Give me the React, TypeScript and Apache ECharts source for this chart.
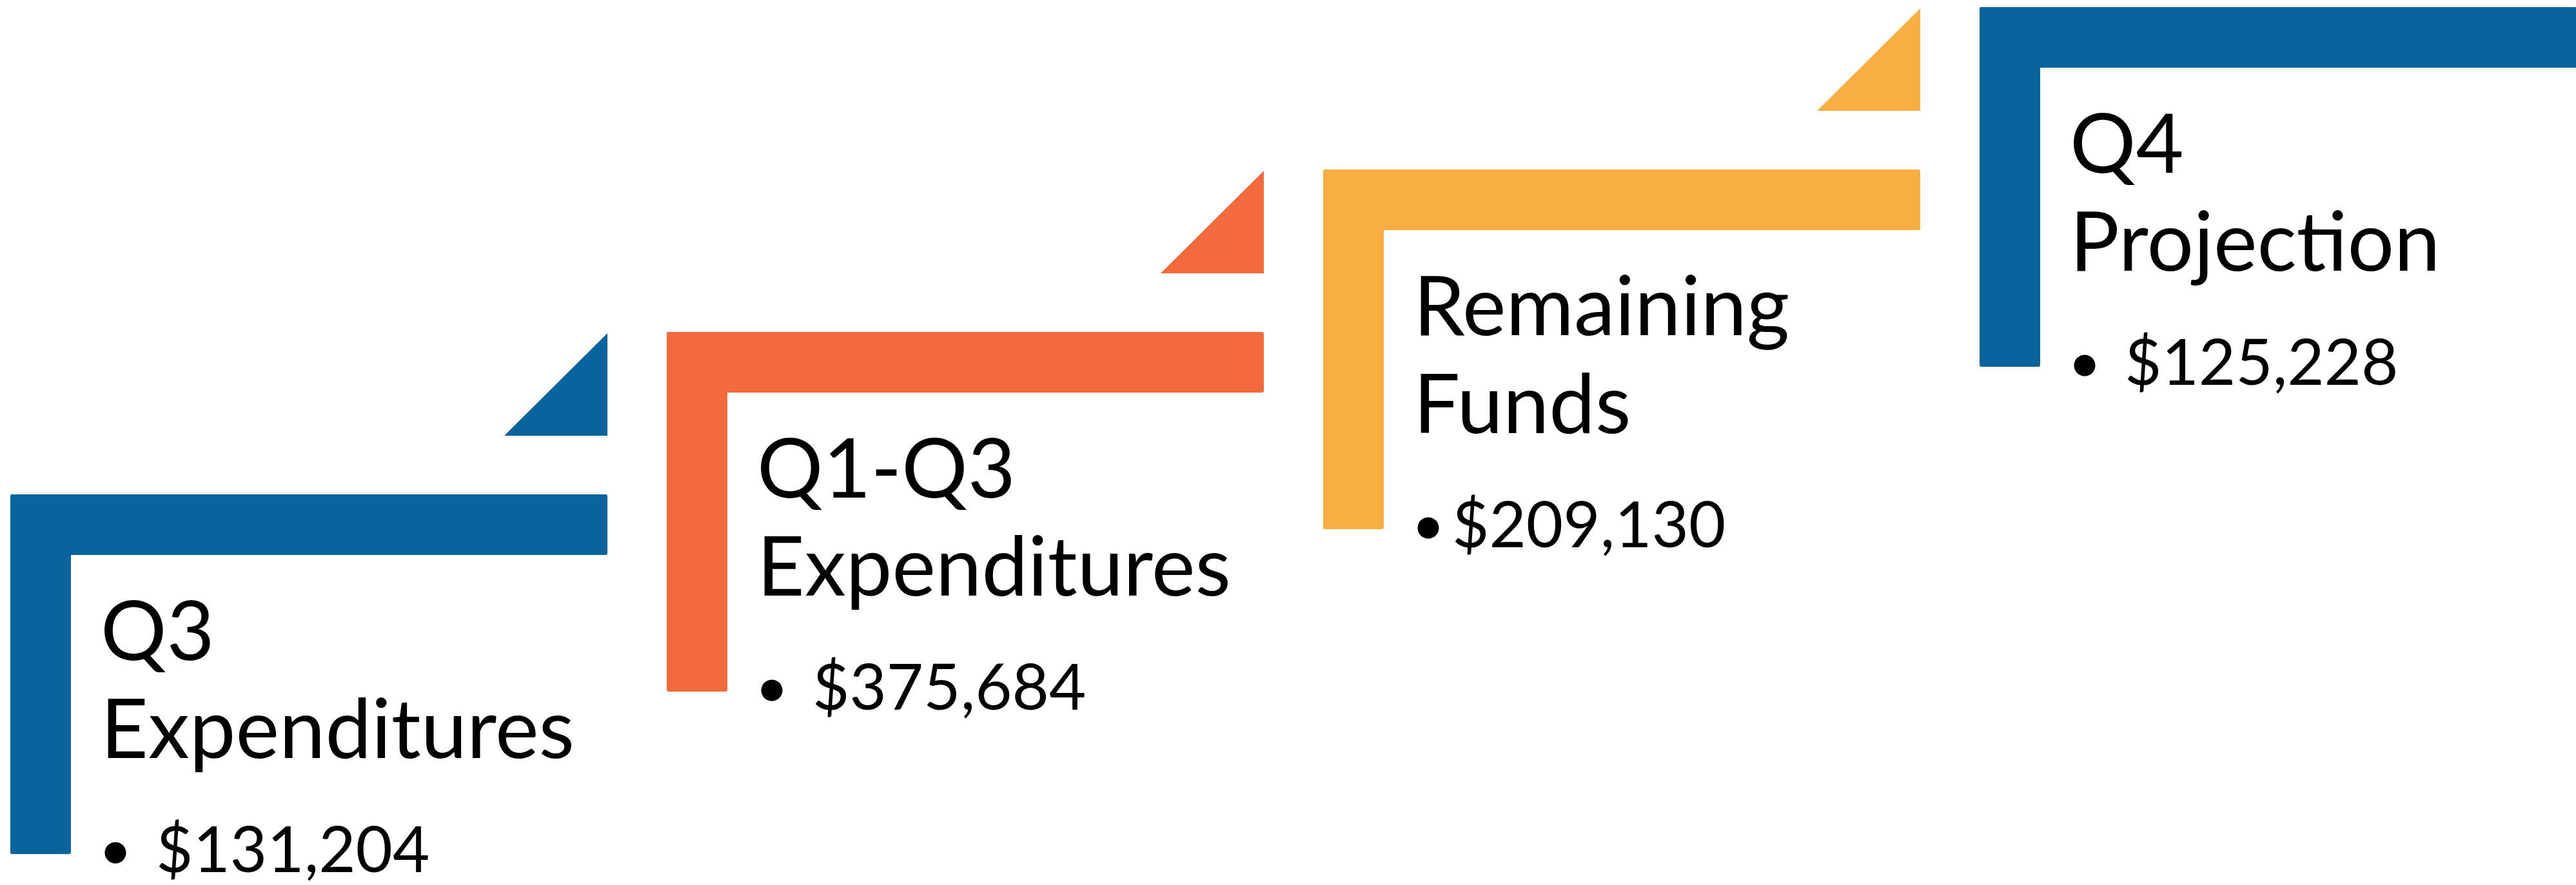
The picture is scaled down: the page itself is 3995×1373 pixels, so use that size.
import React, { useEffect, useRef } from "react";
import * as echarts from "echarts";

// ---- data ----
const titleLine1 = ["Q3", "Q1-Q3", "Remaining", "Q4"];
const titleLine2 = ["Expenditures", "Expenditures", "Funds", "Projection"];
const amounts = ["$131,204", "$375,684", "$209,130", "$125,228"];
const stepColors = ["#07649D", "#F1693C", "#F7AE42", "#07649D"];

// ---- layout constants (px) ----
const W = 3995;
const H = 1373;
const BAR_LEN = 926;
const BAR_T = 94;
const L_HEIGHT = 558;
const TRI = 160;
const TRI_TOP = 250;
const TRI_BOTTOM = 91;
const TEXT_X = 140;
const TITLE_SIZE = 128;
const VALUE_SIZE = 99;
const amountIndent = [226, 226, 200, 225];
const FONT = "Lato, 'Open Sans', sans-serif";

export default function App() {
  const ref = useRef<HTMLDivElement>(null);

  useEffect(() => {
    if (!ref.current) return;
    const chart = echarts.init(ref.current, undefined, { renderer: "svg" });
    const data = titleLine1.map((_, i) => [i, i]);

    const option: any = {
      animation: false,
      backgroundColor: "#ffffff",
      grid: { left: 16, top: 11, width: 1018 * 3, height: 756 },
      xAxis: { type: "value", min: 0, max: 3, show: false },
      yAxis: { type: "value", min: 0, max: 3, show: false },
      series: [
        {
          type: "custom",
          clip: false,
          data,
          encode: { x: 0, y: 1 },
          renderItem: (params: any, api: any) => {
            const i = params.dataIndex;
            const p = api.coord([api.value(0), api.value(1)]);
            const x = p[0];
            const y = p[1];
            const color = stepColors[i];
            const titleStyle = {
              fill: "#000",
              fontFamily: FONT,
              fontSize: TITLE_SIZE,
              align: "left",
              verticalAlign: "middle",
            };
            return {
              type: "group",
              children: [
                {
                  type: "rect",
                  shape: { x, y, width: BAR_LEN, height: BAR_T, r: 3 },
                  style: { fill: color },
                },
                {
                  type: "rect",
                  shape: { x, y, width: BAR_T, height: L_HEIGHT, r: 3 },
                  style: { fill: color },
                },
                {
                  type: "polygon",
                  shape: {
                    points: [
                      [x + BAR_LEN, y - TRI_TOP],
                      [x + BAR_LEN - TRI, y - TRI_BOTTOM],
                      [x + BAR_LEN, y - TRI_BOTTOM],
                    ],
                  },
                  style: { fill: color },
                },
                {
                  type: "text",
                  style: { ...titleStyle, text: titleLine1[i], x: x + TEXT_X, y: y + 207 },
                },
                {
                  type: "text",
                  style: { ...titleStyle, text: titleLine2[i], x: x + TEXT_X, y: y + 359 },
                },
                {
                  type: "circle",
                  shape: { cx: x + 163, cy: y + 556, r: 16.5 },
                  style: { fill: "#000" },
                },
                {
                  type: "text",
                  style: {
                    text: amounts[i],
                    x: x + amountIndent[i],
                    y: y + 547,
                    fill: "#000",
                    fontFamily: FONT,
                    fontSize: VALUE_SIZE,
                    lineHeight: 76,
                    align: "left",
                    verticalAlign: "middle",
                  },
                },
              ],
            };
          },
        },
      ],
    };
    chart.setOption(option);
    return () => chart.dispose();
  }, []);

  return (
    <div
      ref={ref}
      style={{ position: "fixed", left: 0, top: 0, width: W, height: H, background: "#fff" }}
    />
  );
}
